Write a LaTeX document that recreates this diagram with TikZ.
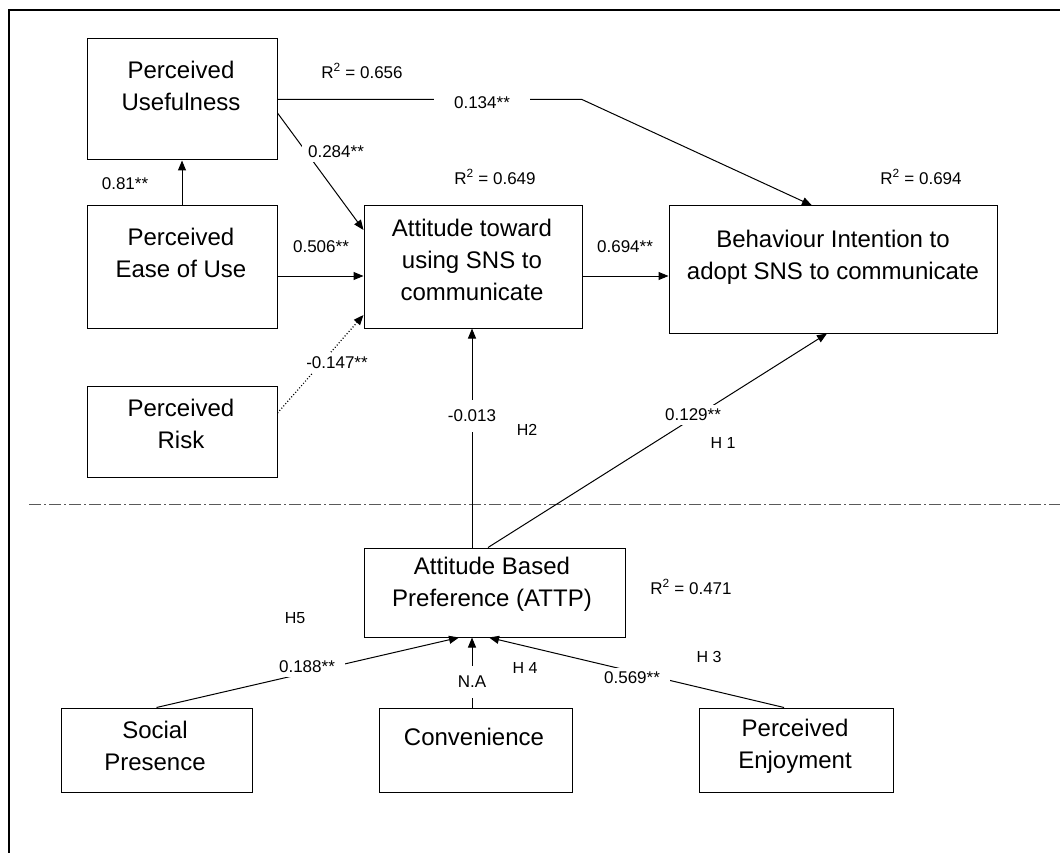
\documentclass[tikz,border=0pt]{standalone}
\usepackage{fontspec}
\setmainfont{Liberation Sans}
\usetikzlibrary{arrows.meta}
\begin{document}
\begin{tikzpicture}[x=1pt,y=-1pt,
  box/.style={draw,line width=1pt,inner sep=0pt},
  txt/.style={align=center,font=\fontsize{24}{32}\selectfont,inner sep=0pt},
  lab/.style={font=\fontsize{17}{20}\selectfont,inner sep=0pt},
  gaplab/.style={lab,fill=white,inner xsep=6pt,inner ysep=4pt},
  hlab/.style={font=\fontsize{16}{18}\selectfont,inner sep=0pt},
  conn/.style={line width=1pt,-{Triangle[length=10pt,width=8pt]}},
  dotconn/.style={conn,dotted,line width=1.2pt}]
\useasboundingbox (0,0) rectangle (1060,853);
\clip (0,0) rectangle (1060,853);
% frame
\draw[line width=1.2pt] (9,10) rectangle (1075,875);
% boxes
\node[box,minimum width=190,minimum height=121] (pu) at (182,99.5) {};
\node[txt] (put) at (181,86) {Perceived\\Usefulness};
\node[box,minimum width=190,minimum height=122] (peou) at (182,267) {};
\node[txt] (peout) at (181,253) {Perceived\\Ease of Use};
\node[box,minimum width=190,minimum height=91] (pr) at (182,431.5) {};
\node[txt] (prt) at (181,424) {Perceived\\Risk};
\node[box,minimum width=218,minimum height=122] (att) at (473,267) {};
\node[txt] (attt) at (472,260) {Attitude toward\\using SNS to\\communicate};
\node[box,minimum width=328,minimum height=127] (beh) at (833,269.5) {};
\node[txt] (beht) at (833,257) {Behaviour Intention to\\adopt SNS to communicate};
\node[box,minimum width=261,minimum height=89] (attp) at (494.5,592.5) {};
\node[txt] (attpt) at (492,584) {Attitude Based\\Preference (ATTP)};
\node[box,minimum width=191,minimum height=84] (sp) at (156.5,750) {};
\node[txt] (spt) at (155,746) {Social\\Presence};
\node[box,minimum width=193,minimum height=84] (conv) at (475.5,750) {};
\node[txt] (convt) at (474,737) {Convenience};
\node[box,minimum width=194,minimum height=84] (pe) at (796,750) {};
\node[txt] (pet) at (795,746) {Perceived\\Enjoyment};
% separator
\coordinate (sepL) at (29,504);
\coordinate (sepR) at (1062,504);
\draw[gray!70!black,line width=1pt,dash pattern=on 12pt off 3pt on 2pt off 3pt] (sepL) -- (sepR);
% connectors
\draw[conn] (peou.north) -- (pu.south);
\coordinate (bend) at (582,99.5);
\draw[conn] (pu.east) -- (bend) -- ([xshift=-21pt]beh.north);
\draw[conn] ([yshift=-13.5pt]pu.east) -- ([yshift=37pt]att.west);
\draw[conn] ([yshift=-9pt]peou.east) -- ([yshift=-9pt]att.west);
\draw[dotconn] ([yshift=18.5pt]pr.east) -- ([yshift=-48pt]att.west);
\draw[conn] ([yshift=-9pt]att.east) -- ([yshift=-6.5pt]beh.west);
\draw[conn] ([xshift=-22.5pt]attp.north) -- ([xshift=-1pt]att.south);
\draw[conn] ([xshift=-6.5pt]attp.north) -- ([xshift=-6pt]beh.south);
\draw[conn] (sp.north) -- ([xshift=-35.5pt]attp.south);
\draw[conn] ([xshift=-3.5pt]conv.north) -- ([xshift=-22.5pt]attp.south);
\draw[conn] ([xshift=-12pt]pe.north) -- ([xshift=-5.5pt]attp.south);
% labels on connectors
\node[gaplab,inner xsep=20pt] (l134) at (482,103) {0.134**};
\node[gaplab] (l284) at (336,152) {0.284**};
\node[lab] (l506) at (321,247) {0.506**};
\node[lab] (l694) at (625,247) {0.694**};
\node[lab] (l081) at (125,184) {0.81**};
\node[gaplab] (l147) at (337,363) {-0.147**};
\node[gaplab,inner ysep=10pt] (l013) at (472,416) {-0.013};
\node[gaplab] (l129) at (693,415) {0.129**};
\node[gaplab,inner xsep=10pt] (l188) at (307,667) {0.188**};
\node[gaplab,inner ysep=10pt] (lna) at (472,682) {N.A};
\node[gaplab,inner xsep=10pt] (l569) at (632,678) {0.569**};
% R squared
\node[lab] (r656) at (362,71) {R\textsuperscript{2} = 0.656};
\node[lab] (r649) at (495,177) {R\textsuperscript{2} = 0.649};
\node[lab] (r694) at (921,177) {R\textsuperscript{2} = 0.694};
\node[lab] (r471) at (691,587) {R\textsuperscript{2} = 0.471};
% hypotheses
\node[hlab] (h1) at (723,443) {H 1};
\node[hlab] (h2) at (527,430) {H2};
\node[hlab] (h3) at (709,657) {H 3};
\node[hlab] (h4) at (525,668) {H 4};
\node[hlab] (h5) at (295,618) {H5};
\end{tikzpicture}
\end{document}
